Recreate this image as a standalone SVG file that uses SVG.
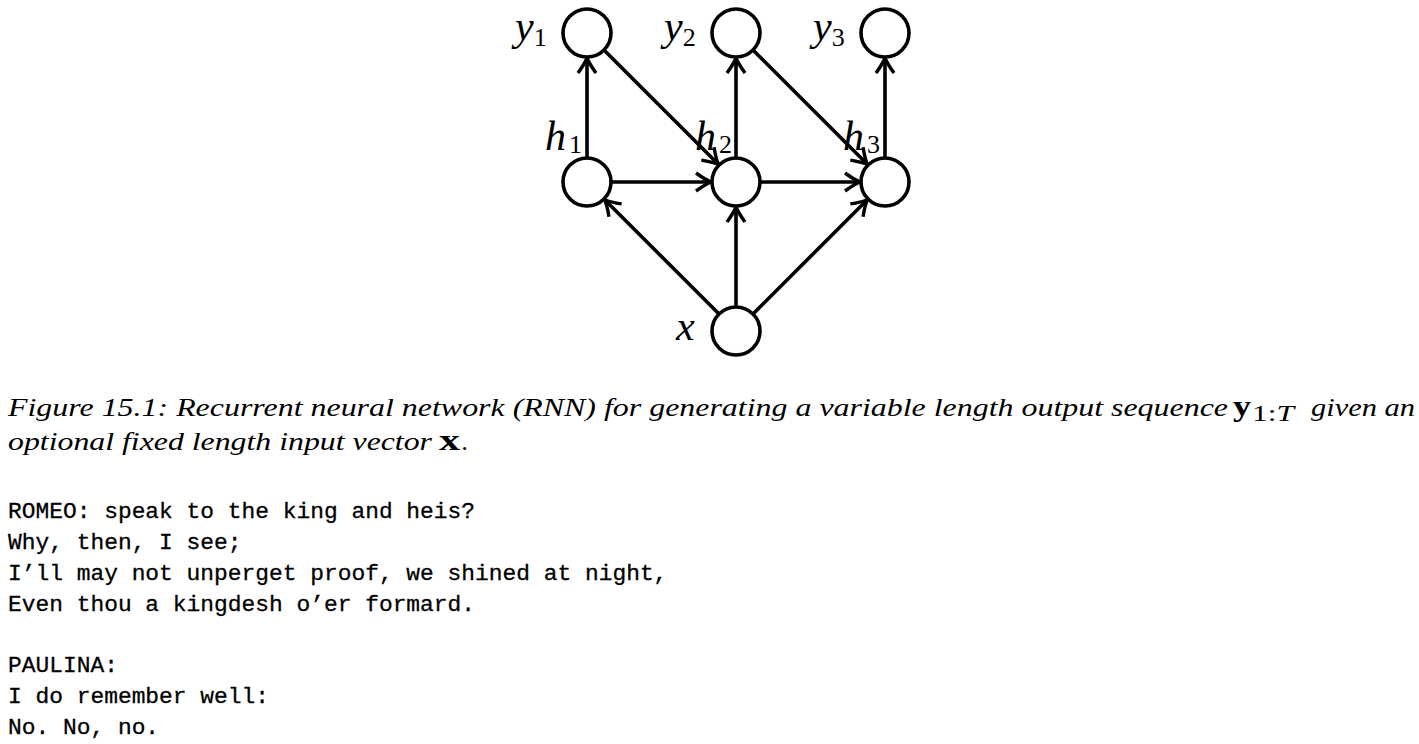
<svg xmlns="http://www.w3.org/2000/svg" width="1419" height="744" viewBox="0 0 1419 744">
  <style>
    .node { fill: #fff; stroke: #000; stroke-width: 3.6; }
    .edge { stroke: #000; stroke-width: 3.6; fill: none; marker-end: url(#arr); }
    .lbl { font-family: "Liberation Serif", serif; font-style: italic; font-size: 42px; fill: #000; }
    .sub { font-style: normal; font-size: 26px; }
    .cap { font-family: "Liberation Serif", serif; font-style: italic; font-size: 26px; fill: #000; }
    .bold { font-style: normal; font-weight: bold; font-size: 30px; }
    .small { font-size: 23px; }
    .mono { font-family: "Liberation Mono", monospace; font-size: 22.9px; fill: #000; stroke: #000; stroke-width: 0.3; }
  </style>
  <defs>
    <marker id="arr" markerUnits="userSpaceOnUse" markerWidth="20" markerHeight="20" refX="0" refY="0" orient="auto" overflow="visible">
      <path d="M -15 -9 Q -6 -2.5 0 0 Q -6 2.5 -15 9" fill="none" stroke="#000" stroke-width="3.4" stroke-linejoin="miter"/>
    </marker>
  </defs>
  <rect width="1419" height="744" fill="#fff"/>

  <g id="connectors">
    <line class="edge" x1="587" y1="157" x2="587" y2="58"/>
    <line class="edge" x1="736" y1="157" x2="736" y2="58"/>
    <line class="edge" x1="885" y1="157" x2="885" y2="58"/>
    <line class="edge" x1="604.7" y1="50.7" x2="718.3" y2="164.3"/>
    <line class="edge" x1="753.7" y1="50.7" x2="867.3" y2="164.3"/>
    <line class="edge" x1="612" y1="182" x2="711" y2="182"/>
    <line class="edge" x1="761" y1="182" x2="860" y2="182"/>
    <line class="edge" x1="718.3" y1="313.3" x2="604.7" y2="199.7"/>
    <line class="edge" x1="736" y1="306" x2="736" y2="207"/>
    <line class="edge" x1="753.7" y1="313.3" x2="867.3" y2="199.7"/>
  </g>

  <g id="y1"><circle class="node" cx="587" cy="33" r="24"/><text class="lbl" x="515" y="40">y<tspan class="sub" dy="6">1</tspan></text></g>
  <g id="y2"><circle class="node" cx="736" cy="33" r="24"/><text class="lbl" x="664" y="40">y<tspan class="sub" dy="6">2</tspan></text></g>
  <g id="y3"><circle class="node" cx="885" cy="33" r="24"/><text class="lbl" x="813" y="40">y<tspan class="sub" dy="6">3</tspan></text></g>
  <g id="h1"><circle class="node" cx="587" cy="182" r="24"/><text class="lbl" x="545" y="150">h<tspan class="sub" dx="3" dy="3">1</tspan></text></g>
  <g id="h2"><circle class="node" cx="736" cy="182" r="24"/><text class="lbl" x="695" y="150">h<tspan class="sub" dx="3" dy="3">2</tspan></text></g>
  <g id="h3"><circle class="node" cx="885" cy="182" r="24"/><text class="lbl" x="843" y="150">h<tspan class="sub" dx="3" dy="3">3</tspan></text></g>
  <g id="x"><circle class="node" cx="736" cy="331" r="24"/><text class="lbl" x="676" y="340">x</text></g>

  <g id="caption">
    <text class="cap" x="8" y="416" textLength="1220" lengthAdjust="spacingAndGlyphs">Figure 15.1: Recurrent neural network (RNN) for generating a variable length output sequence</text>
    <text class="cap bold" x="1233" y="416" textLength="18" lengthAdjust="spacingAndGlyphs">y</text>
    <text class="cap small" x="1252" y="421" textLength="42" lengthAdjust="spacingAndGlyphs"><tspan font-style="normal">1:</tspan>T</text>
    <text class="cap" x="1311" y="416" textLength="104" lengthAdjust="spacingAndGlyphs">given an</text>
    <text class="cap" x="8" y="450" textLength="424" lengthAdjust="spacingAndGlyphs">optional fixed length input vector</text>
    <text class="cap bold" x="439" y="450" textLength="21" lengthAdjust="spacingAndGlyphs">x</text>
    <text class="cap" x="462" y="450" font-style="normal">.</text>
  </g>

  <g id="sample">
    <text class="mono" x="8" y="518">ROMEO: speak to the king and heis?</text>
    <text class="mono" x="8" y="549">Why, then, I see;</text>
    <text class="mono" x="8" y="580">I’ll may not unperget proof, we shined at night,</text>
    <text class="mono" x="8" y="611">Even thou a kingdesh o’er formard.</text>
    <text class="mono" x="8" y="672">PAULINA:</text>
    <text class="mono" x="8" y="703">I do remember well:</text>
    <text class="mono" x="8" y="734">No. No, no.</text>
  </g>
</svg>
